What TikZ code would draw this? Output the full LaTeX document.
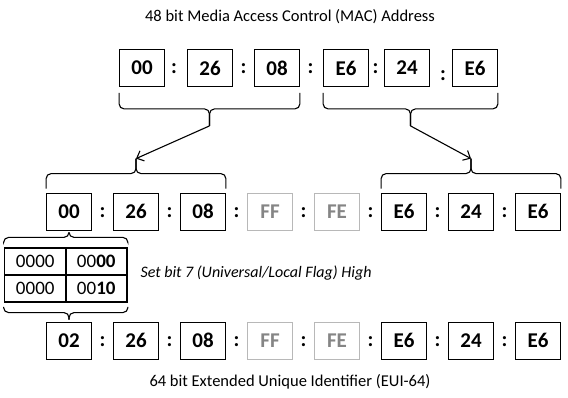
\documentclass[tikz,border=0pt]{standalone}
\usepackage{fontspec}
\setmainfont{Carlito}
\usetikzlibrary{arrows.meta,calc}
\tikzset{
  octet/.style={draw, line width=0.8pt, minimum width=45pt, minimum height=37pt, inner sep=0pt,
    font=\fontsize{21}{21}\selectfont\bfseries},
  padding/.style={octet, draw=black!28, text=black!48},
  colon/.style={inner sep=0pt, font=\fontsize{21}{21}\selectfont\bfseries},
  bitcell/.style={draw, line width=1.8pt, minimum width=61.5pt, minimum height=27pt, inner sep=0pt,
    font=\fontsize{19}{19}\selectfont},
  brace/.style={line width=1.1pt, rounded corners=5pt},
  pointer/.style={line width=1.1pt, -{Straight Barb[length=6pt,width=11pt]}},
  caption/.style={font=\fontsize{16.5}{16.5}\selectfont},
}
\begin{document}
\begin{tikzpicture}[x=1pt,y=-1pt]
\useasboundingbox (0,0) rectangle (568,398);

\node[caption] (mac) at (290,17) {48 bit Media Access Control (MAC) Address};
\node[caption] (eui) at (290,382) {64 bit Extended Unique Identifier (EUI-64)};

% MAC address
\node[octet] (t1) at (142,68) {00};
\node[octet] (t2) at (210,68) {26};
\node[octet] (t3) at (277,68) {08};
\node[octet] (t4) at (346,68) {E6};
\node[octet] (t5) at (407,68) {24};
\node[octet] (t6) at (475,68) {E6};
\node[colon] (tc1) at ($(t1)!.5!(t2)+(-2,1)$) {:};
\node[colon] (tc2) at ($(t2)!.5!(t3)+(0,1)$) {:};
\node[colon] (tc3) at ($(t3)!.5!(t4)+(-1,1)$) {:};
\node[colon] (tc4) at ($(t4)!.5!(t5)+(-1,1)$) {:};
\node[colon] (tc5) at ($(t5)!.5!(t6)+(2,8)$) {:};

% EUI-64 with FFFE inserted
\node[octet] (m1) at (69,211.5) {00};
\node[octet] (m2) at (136,211.5) {26};
\node[octet] (m3) at (203,211.5) {08};
\node[padding] (m4) at (270,211.5) {FF};
\node[padding] (m5) at (337,211.5) {FE};
\node[octet] (m6) at (404,211.5) {E6};
\node[octet] (m7) at (471,211.5) {24};
\node[octet] (m8) at (538,211.5) {E6};
\node[colon] (mc1) at ($(m1)!.5!(m2)+(0,1)$) {:};
\node[colon] (mc2) at ($(m2)!.5!(m3)+(0,1)$) {:};
\node[colon] (mc3) at ($(m3)!.5!(m4)+(0,1)$) {:};
\node[colon] (mc4) at ($(m4)!.5!(m5)+(0,1)$) {:};
\node[colon] (mc5) at ($(m5)!.5!(m6)+(0,1)$) {:};
\node[colon] (mc6) at ($(m6)!.5!(m7)+(0,1)$) {:};
\node[colon] (mc7) at ($(m7)!.5!(m8)+(0,1)$) {:};

% first octet in binary
\node[bitcell] (c11) at (35.25,261.5) {0000};
\node[bitcell] (c12) at (96.25,261.5) {00\textbf{00}};
\node[bitcell] (c21) at (35.25,288.5) {0000};
\node[bitcell] (c22) at (96.25,288.5) {00\textbf{10}};
\node[anchor=west, font=\fontsize{16}{16}\selectfont\itshape] (flag) at (137,273)
  {Set bit 7 (Universal/Local Flag) High};

% modified EUI-64
\node[octet] (b1) at (69,340.5) {02};
\node[octet] (b2) at (136,340.5) {26};
\node[octet] (b3) at (203,340.5) {08};
\node[padding] (b4) at (270,340.5) {FF};
\node[padding] (b5) at (337,340.5) {FE};
\node[octet] (b6) at (404,340.5) {E6};
\node[octet] (b7) at (471,340.5) {24};
\node[octet] (b8) at (538,340.5) {E6};
\node[colon] (bc1) at ($(b1)!.5!(b2)+(0,1)$) {:};
\node[colon] (bc2) at ($(b2)!.5!(b3)+(0,1)$) {:};
\node[colon] (bc3) at ($(b3)!.5!(b4)+(0,1)$) {:};
\node[colon] (bc4) at ($(b4)!.5!(b5)+(0,1)$) {:};
\node[colon] (bc5) at ($(b5)!.5!(b6)+(0,1)$) {:};
\node[colon] (bc6) at ($(b6)!.5!(b7)+(0,1)$) {:};
\node[colon] (bc7) at ($(b7)!.5!(b8)+(0,1)$) {:};

% braces
\coordinate (oui) at ($(t1.south west)!.5!(t3.south east)+(0,39)$);
\coordinate (nic) at ($(t4.south west)!.5!(t6.south east)+(0,39)$);
\coordinate (euioui) at ($(m1.north west)!.5!(m3.north east)+(0,-34)$);
\coordinate (euinic) at ($(m6.north west)!.5!(m8.north east)+(0,-34)$);
\coordinate (bitsin) at ($(m1.south)+(0,2)$);
\coordinate (bitsout) at ($(b1.north)+(0,-2)$);

\draw[brace] ($(t1.south west)+(0,6)$) |- ($(oui)+(0,-17)$) -- (oui);
\draw[brace] ($(t3.south east)+(0,6)$) |- ($(oui)+(0,-17)$) -- (oui);
\draw[brace] ($(t4.south west)+(0,6)$) |- ($(nic)+(0,-17)$) -- (nic);
\draw[brace] ($(t6.south east)+(0,6)$) |- ($(nic)+(0,-17)$) -- (nic);

\draw[brace] ($(m1.north west)+(0,-4)$) |- ($(euioui)+(0,15)$) -- (euioui);
\draw[brace] ($(m3.north east)+(0,-4)$) |- ($(euioui)+(0,15)$) -- (euioui);
\draw[brace] ($(m6.north west)+(0,-4)$) |- ($(euinic)+(0,15)$) -- (euinic);
\draw[brace] ($(m8.north east)+(0,-4)$) |- ($(euinic)+(0,15)$) -- (euinic);

\draw[brace] ($(c11.north west)+(0,-5)$) |- ($(bitsin)+(0,5)$) -- (bitsin);
\draw[brace] ($(c12.north east)+(0,-5)$) |- ($(bitsin)+(0,5)$) -- (bitsin);
\draw[brace] ($(c21.south west)+(0,4)$) |- ($(bitsout)+(0,-7)$) -- (bitsout);
\draw[brace] ($(c22.south east)+(0,4)$) |- ($(bitsout)+(0,-7)$) -- (bitsout);

\draw[pointer] (oui) -- (euioui);
\draw[pointer] (nic) -- (euinic);
\end{tikzpicture}
\end{document}
